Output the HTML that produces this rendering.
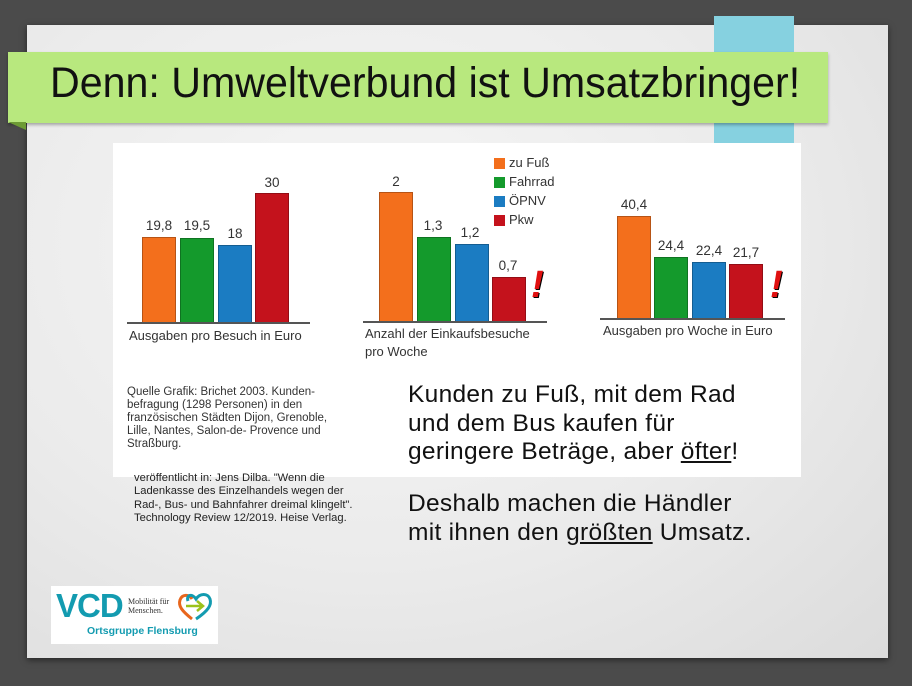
<!DOCTYPE html>
<html><head><meta charset="utf-8"><style>
*{margin:0;padding:0}
body{width:912px;height:686px;background:#4b4b4b;position:relative;overflow:hidden;font-family:"Liberation Sans",sans-serif}
.a{position:absolute}
.slide{left:27px;top:25px;width:861px;height:633px;background:radial-gradient(ellipse at 40% 35%,#f6f6f6 0%,#ebebeb 55%,#dcdcdc 100%);box-shadow:0 2px 6px rgba(0,0,0,.5)}
.bar{position:absolute;border:1px solid rgba(0,0,0,.25);box-sizing:border-box}
.o{background:#f36f1c}.g{background:#149a2c}.b{background:#1b7cc2}.r{background:#c4121c}
.v{position:absolute;font-size:13.5px;color:#333;width:40px;text-align:center}
.ax{position:absolute;height:2px;background:#555}
.lab{position:absolute;font-size:13px;color:#333;line-height:18px}
.big{position:absolute;font-size:24.5px;line-height:28.5px;color:#111;left:408px;white-space:nowrap;letter-spacing:0.3px}
.sq{position:absolute;width:11px;height:11px}
.ex{position:absolute;color:#e01010;font-weight:bold;font-style:italic;font-size:38px;text-shadow:1px 1px 0 #000}
</style></head><body>
<div class="a slide"></div>
<div class="a" style="left:714px;top:16px;width:80px;height:140px;background:#86d1e0"></div>
<div class="a" style="left:8px;top:52px;width:820px;height:71px;background:#b8e87e;box-shadow:0 2px 3px rgba(0,0,0,.3)"></div>
<div class="a" style="left:8px;top:122px;width:0;height:0;border-top:8px solid #6d9b35;border-left:18px solid transparent"></div>
<div class="a" style="left:50px;top:59px;font-size:43px;color:#111;white-space:nowrap;transform:scaleX(0.957);transform-origin:0 0">Denn: Umweltverbund ist Umsatzbringer!</div>

<div class="a" style="left:113px;top:143px;width:688px;height:334px;background:#fff"></div>

<!-- chart 1 -->
<div class="bar o" style="left:142px;top:237px;width:34px;height:86px"></div>
<div class="bar g" style="left:180px;top:238px;width:34px;height:85px"></div>
<div class="bar b" style="left:218px;top:245px;width:34px;height:78px"></div>
<div class="bar r" style="left:255px;top:193px;width:34px;height:130px"></div>
<div class="v" style="left:139px;top:218px">19,8</div>
<div class="v" style="left:177px;top:218px">19,5</div>
<div class="v" style="left:215px;top:226px">18</div>
<div class="v" style="left:252px;top:175px">30</div>
<div class="ax" style="left:127px;top:322px;width:183px"></div>
<div class="lab" style="left:129px;top:327px">Ausgaben pro Besuch in Euro</div>

<!-- chart 2 -->
<div class="bar o" style="left:379px;top:192px;width:34px;height:130px"></div>
<div class="bar g" style="left:417px;top:237px;width:34px;height:85px"></div>
<div class="bar b" style="left:455px;top:244px;width:34px;height:78px"></div>
<div class="bar r" style="left:492px;top:277px;width:34px;height:45px"></div>
<div class="v" style="left:376px;top:174px">2</div>
<div class="v" style="left:413px;top:218px">1,3</div>
<div class="v" style="left:450px;top:225px">1,2</div>
<div class="v" style="left:488px;top:258px">0,7</div>
<div class="ax" style="left:363px;top:321px;width:184px"></div>
<div class="lab" style="left:365px;top:325px">Anzahl der Einkaufsbesuche<br>pro Woche</div>
<div class="ex" style="left:531px;top:264px">!</div>

<!-- legend -->
<div class="sq o" style="left:494px;top:158px"></div><div class="lab" style="left:509px;top:154px">zu Fuß</div>
<div class="sq g" style="left:494px;top:177px"></div><div class="lab" style="left:509px;top:173px">Fahrrad</div>
<div class="sq b" style="left:494px;top:196px"></div><div class="lab" style="left:509px;top:192px">ÖPNV</div>
<div class="sq r" style="left:494px;top:215px"></div><div class="lab" style="left:509px;top:211px">Pkw</div>

<!-- chart 3 -->
<div class="bar o" style="left:617px;top:216px;width:34px;height:103px"></div>
<div class="bar g" style="left:654px;top:257px;width:34px;height:62px"></div>
<div class="bar b" style="left:692px;top:262px;width:34px;height:57px"></div>
<div class="bar r" style="left:729px;top:264px;width:34px;height:55px"></div>
<div class="v" style="left:614px;top:197px">40,4</div>
<div class="v" style="left:651px;top:238px">24,4</div>
<div class="v" style="left:689px;top:243px">22,4</div>
<div class="v" style="left:726px;top:245px">21,7</div>
<div class="ax" style="left:600px;top:318px;width:185px"></div>
<div class="lab" style="left:603px;top:322px">Ausgaben pro Woche in Euro</div>
<div class="ex" style="left:770px;top:264px">!</div>

<div class="a" style="left:127px;top:386px;font-size:11.5px;line-height:13px;color:#333;width:215px">Quelle Grafik: Brichet 2003. Kunden-<br>befragung (1298 Personen) in den<br>französischen Städten Dijon, Grenoble,<br>Lille, Nantes, Salon-de- Provence und<br>Straßburg.</div>

<div class="big" style="top:381px">Kunden zu Fuß, mit dem Rad<br>und dem Bus kaufen für<br>geringere Beträge, aber <u>öfter</u>!</div>
<div class="big" style="top:490px">Deshalb machen die Händler<br>mit ihnen den <u>größten</u> Umsatz.</div>

<div class="a" style="left:134px;top:472px;font-size:11.2px;line-height:13.3px;color:#222;white-space:nowrap">veröffentlicht in: Jens Dilba. "Wenn die<br>Ladenkasse des Einzelhandels wegen der<br>Rad-, Bus- und Bahnfahrer dreimal klingelt".<br>Technology Review 12/2019. Heise Verlag.</div>

<div class="a" style="left:51px;top:586px;width:167px;height:58px;background:#fff"></div>
<div class="a" style="left:56px;top:587px;font-size:33px;font-weight:bold;color:#139bb0;letter-spacing:-1px">VCD</div>
<div class="a" style="left:128px;top:597px;font-size:8px;line-height:9px;font-family:'Liberation Serif',serif;color:#333">Mobilität für<br>Menschen.</div>
<svg class="a" style="left:176px;top:591px" width="40" height="32" viewBox="0 0 40 32">
<path d="M16 28 C6 20 2 15 4 9 C6 3 13 3 16 8" fill="none" stroke="#e8661d" stroke-width="3"/>
<path d="M20 28 C32 20 36 14 34 8 C32 2 24 2 20 8 C16 2 10 4 12 10" fill="none" stroke="#139bb0" stroke-width="3"/>
<path d="M10 15 H26 M21 10 L27 15 L21 20" fill="none" stroke="#9cc21a" stroke-width="2.5"/>
</svg>
<div class="a" style="left:87px;top:625px;font-size:10.5px;font-weight:bold;color:#139bb0">Ortsgruppe Flensburg</div>
</body></html>
